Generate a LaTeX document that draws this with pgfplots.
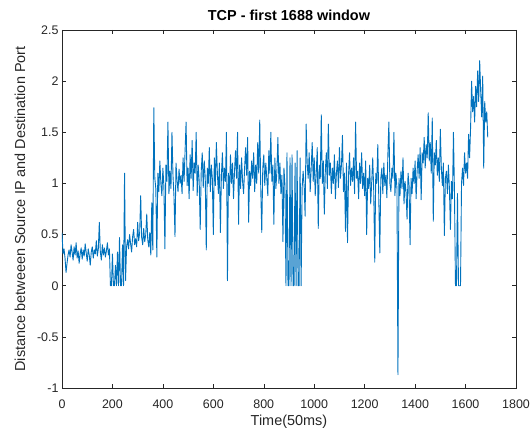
\documentclass[border=0pt]{standalone}
\usepackage{pgfplots}
\pgfplotsset{compat=1.18}
\usepackage{pgfplotstable}
\usepackage{fontspec}
\setmainfont{Liberation Sans}
\definecolor{mblue}{rgb}{0,0.447,0.741}
\definecolor{axgray}{RGB}{38,38,38}
\pgfplotstableread{
y
0.52
0.31
0.36
0.27
0.13
0.22
0.30
0.35
0.28
0.40
0.33
0.25
0.38
0.30
0.42
0.27
0.34
0.22
0.31
0.37
0.26
0.35
0.29
0.41
0.32
0.24
0.36
0.30
0.20
0.33
0.38
0.27
0.35
0.31
0.44
0.29
0.36
0.62
0.33
0.25
0.40
0.30
0.37
0.28
0.34
0.42
0.30
0.36
0
0
0.31
0
0
0.20
0
0.33
0
0.47
0
0
0.40
0
1.10
0.05
0.38
0.45
0.36
0.50
0.41
0.33
0.48
0.55
0.40
0.46
0.38
0.62
0.44
0.52
0.88
0.47
0.40
0.56
0.43
0.50
0.70
0.45
0.38
0.52
0.30
0.81
0.35
1.74
1.05
0.95
0.28
1.10
0.92
1.22
1.00
0.88
1.15
0.97
0.36
1.18
1.02
1.60
0.90
1.12
0.95
1.50
1.08
0.87
0.48
1.20
1.03
0.92
1.14
1.00
1.08
0.90
1.25
1.02
1.32
1.60
0.98
1.15
0.85
1.28
1.05
1.42
0.93
1.20
1.10
1.50
0.88
1.18
1.02
0.55
1.12
1.30
0.96
1.22
1.05
0.35
1.15
1.00
1.35
0.92
1.18
1.05
0.50
1.25
0.98
1.40
1.10
0.90
1.20
0.52
1.08
1.30
0.95
1.15
1.02
1.50
0.05
1.10
0.88
1.28
1.00
1.20
0.85
1.12
1.32
1.05
1.50
0.60
1.18
0.95
1.25
1.02
0.90
1.15
1.35
1.08
1.45
0.62
1.12
0.98
1.22
1.05
1.30
0.92
1.18
1.00
1.40
1.10
1.62
0.95
0.52
1.15
1.28
0.98
1.20
1.05
0.88
1.32
1.10
1.50
1.02
1.18
0.60
1.25
0.95
1.12
1.45
1.00
1.20
0.90
1.08
0.43
1.15
0.98
0
1.30
0
0
1.25
0
1.28
0
0
1.20
0
1.32
0
0
1.25
0
0.95
1.12
0.98
0.68
1.58
1.20
1.05
1.30
0.92
1.15
1.40
1.02
1.25
0.88
1.10
1.35
0.56
1.18
1.05
1.67
1.00
1.22
0.70
1.12
1.30
0.95
1.58
1.08
1.20
0.90
1.15
1.00
1.28
0.85
1.10
1.22
0.96
1.35
1.05
1.18
1.47
0.92
1.10
0.53
1.20
0.42
1.08
1.30
0.98
1.15
1.02
1.25
0.90
1.60
1.05
1.12
0.85
1.20
1.00
1.30
0.95
1.10
0.88
1.22
0.50
1.05
0.95
1.18
0.80
1.02
1.25
0.92
0.23
1.10
1.00
1.38
0.85
0.32
1.05
1.15
0.90
1.20
0.98
1.08
0.86
1.28
1.60
1.00
0.92
1.15
1.05
1.50
0.88
1.10
0.95
-0.87
1.05
0.88
1.12
0.95
1.25
0.80
1.02
0.92
0.65
1.10
0.98
0.40
1.05
0.90
1.15
1.00
1.22
0.85
1.12
1.28
1.05
1.35
0.84
1.30
1.20
1.45
1.15
1.38
1.25
1.69
1.22
1.40
1.10
1.64
0.63
1.30
1.18
1.42
1.08
1.25
1.02
1.53
1.15
0.98
1.20
0.49
1.05
1.12
0.90
1.18
0.95
0.55
1.02
0.85
1.50
0.92
0
0
0.90
0
0
0
1.00
1.15
0.98
1.30
1.10
1.20
1.05
1.48
1.25
1.55
2.00
1.70
1.85
1.60
1.95
1.75
2.10
1.80
2.20
1.90
1.65
2.05
1.15
1.80
1.60
1.70
1.45
}\tcpdata
\begin{document}
\begin{tikzpicture}
\begin{axis}[
  name=ax,
  scale only axis,
  width=454bp, height=358bp,
  xmin=0, xmax=1800, ymin=-1, ymax=2.5,
  xtick={0,200,...,1800},
  ytick={-1,-0.5,0,0.5,1,1.5,2,2.5},
  yticklabels={-1,-0.5,0,0.5,1,1.5,2,2.5},
  scaled x ticks=false,
  /pgf/number format/1000 sep={},
  /pgf/number format/assume math mode=true,
  tick align=inside,
  major tick length=4bp,
  axis line style={axgray, line width=0.5bp},
  every tick/.style={axgray, line width=0.5bp},
  tick label style={font=\fontsize{12.5}{15}\selectfont, text=axgray},
  every x tick label/.append style={yshift=-8bp},
  title={\textbf{TCP - first 1688 window}},
  title style={font=\fontsize{14.5}{17}\selectfont, text=black, yshift=0bp},
  xlabel={Time(50ms)},
  ylabel={Distance betweeen Source IP and Destination Port},
  label style={font=\fontsize{14.5}{17}\selectfont, text=axgray},
  xlabel style={yshift=0bp},
  ylabel style={yshift=5bp},
]
\addplot[mblue, line width=0.9bp, line join=round] table[x expr=\coordindex*4, y=y] {\tcpdata};
\end{axis}
\pgfresetboundingbox
\path[use as bounding box] ([shift={(-62bp,-46bp)}]ax.south west) rectangle ([shift={(15bp,30bp)}]ax.north east);
\end{tikzpicture}
\end{document}
